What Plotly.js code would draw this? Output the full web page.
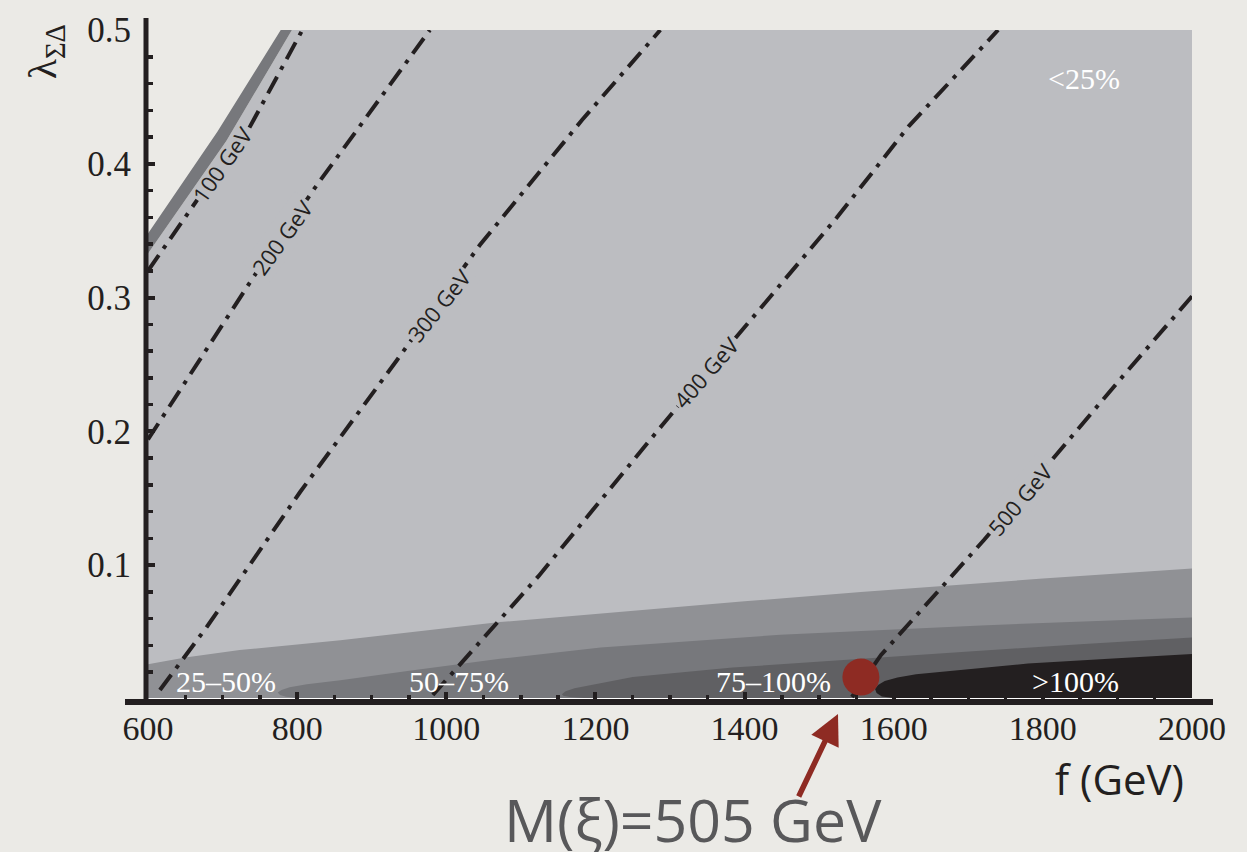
<!DOCTYPE html>
<html>
<head>
<meta charset="utf-8">
<script src="https://cdn.plot.ly/plotly-3.0.1.min.js"></script>
<style>html,body{margin:0;padding:0;background:#ebeae6;}#chart{width:1247px;height:852px;}</style>
</head>
<body>
<div id="chart"></div>
<script>
// ---- axis ticks ----
const fTicks = [600, 800, 1000, 1200, 1400, 1600, 1800, 2000];
const lamTicks = [0.1, 0.2, 0.3, 0.4, 0.5];

// ---- region boundaries (f in GeV, lambda) ----
const edgeOuterF = [600, 693, 778];
const edgeOuterL = [0.348, 0.424, 0.5];
const edgeInnerF = [600, 705, 793];
const edgeInnerL = [0.333, 0.417, 0.5];

// 25% boundary (<25% above, 25-50% below)
const b25F = [600, 650, 723, 858, 1072, 1207, 1400, 1556, 1800, 2000];
const b25L = [0.026, 0.031, 0.0366, 0.044, 0.0575, 0.064, 0.073, 0.080, 0.090, 0.0975];
// 50% boundary (tip, upper edge, then lower edge back to the tip)
const b50F = [774, 779, 790, 813, 858, 948, 1072, 1207, 1448, 1556, 1717, 2000];
const b50L = [0.0048, 0.0068, 0.0088, 0.011, 0.014, 0.021, 0.030, 0.0385, 0.048, 0.051, 0.055, 0.061];
const b50LowF = [800, 785, 777];
const b50LowL = [0.0008, 0.0016, 0.003];
// 75% boundary
const b75F = [1155, 1160, 1172, 1206, 1250, 1384, 1448, 1555, 1716, 1850, 2000];
const b75L = [0.0035, 0.0058, 0.008, 0.0115, 0.0164, 0.0235, 0.026, 0.030, 0.036, 0.041, 0.046];
const b75LowF = [1185, 1166, 1157];
const b75LowL = [0.0008, 0.0015, 0.0025];
// 100% boundary
const b100F = [1575, 1579, 1588, 1605, 1630, 1680, 1716, 1780, 1900, 2000];
const b100L = [0.0075, 0.0105, 0.0135, 0.016, 0.0185, 0.021, 0.023, 0.0265, 0.0305, 0.0336];
const b100LowF = [1600, 1584, 1577];
const b100LowL = [0.0008, 0.0018, 0.0045];

// ---- M(xi) contours (dash-dot); null = gap where the label sits ----
const massLabels = ["100 GeV", "200 GeV", "300 GeV", "400 GeV", "500 GeV"];
const m100F = [600, 666, null, 736, 807];
const m100L = [0.320, 0.373, null, 0.427, 0.5];
const m200F = [600, 741, 825, 978];
const m200L = [0.194, 0.315, 0.383, 0.5];
const m300F = [616, 679, 804, 934, 1045, 1182, 1287];
const m300L = [0.0067, 0.054, 0.1547, 0.2534, 0.3393, 0.4327, 0.5];
const m400F = [982, 1124, 1290, 1524, 1620, 1740];
const m400L = [0.003, 0.092, 0.205, 0.360, 0.428, 0.5];
const m500F = [1544, 1583, 1721, 1899.5, 2000];
const m500L = [0.0015, 0.0329, 0.1188, 0.2362, 0.301];

// benchmark point M(xi)=505 GeV
const pointF = [1556];
const pointL = [0.0164];

// region labels
const regionText = ["<25%", "25\u201350%", "50\u201375%", "75\u2013100%", ">100%"];

// ---- colors ----
const cLight = '#bcbdc1', cMid1 = '#909195', cMid2 = '#77787c', cMid3 = '#606063', cBlack = '#231f20';
const bg = '#ebeae6';
const xMin = fTicks[0], xMax = fTicks[fTicks.length - 1];
const yMin = 0, yMax = lamTicks[lamTicks.length - 1];

function poly(xs, ys, color) {
  return {type: 'scatter', mode: 'lines', x: xs, y: ys, fill: 'toself', fillcolor: color,
          line: {width: 0, color: color}, hoverinfo: 'skip'};
}
function rev(a) { return a.slice().reverse(); }

const traces = [];
traces.push(poly(edgeInnerF.concat([xMax, xMax, xMin]), edgeInnerL.concat([yMax, yMin, yMin]), cLight));
traces.push(poly(edgeOuterF.concat(rev(edgeInnerF)), edgeOuterL.concat(rev(edgeInnerL)), cMid2));
traces.push(poly(b25F.concat([xMax, xMin]), b25L.concat([yMin, yMin]), cMid1));
traces.push(poly(b50F.concat([xMax], b50LowF), b50L.concat([yMin], b50LowL), cMid2));
traces.push(poly(b75F.concat([xMax], b75LowF), b75L.concat([yMin], b75LowL), cMid3));
traces.push(poly(b100F.concat([xMax], b100LowF), b100L.concat([yMin], b100LowL), cBlack));

// white baseline
traces.push({type: 'scatter', mode: 'lines', x: [xMin, xMax], y: [yMin, yMin],
  line: {color: '#ffffff', width: 2}, hoverinfo: 'skip'});

// mass contours
const massF = [m100F, m200F, m300F, m400F, m500F];
const massL = [m100L, m200L, m300L, m400L, m500L];
for (let i = 0; i < massF.length; i++) {
  traces.push({type: 'scatter', mode: 'lines', x: massF[i], y: massL[i], connectgaps: false,
    line: {color: '#231f20', width: 4, dash: '19px,8px,4px,8px'}, hoverinfo: 'skip'});
}
// red point
traces.push({type: 'scatter', mode: 'markers', x: pointF, y: pointL,
  marker: {color: '#8e2b23', size: 37, line: {width: 0}}, hoverinfo: 'skip', cliponaxis: false});

// ---- pixel helpers for annotations placed in paper space ----
const L = 148, R = 55, T = 30, B = 153, W = 1247, H = 852;
const pw = W - L - R, ph = H - T - B;
function px(x) { return (x - L) / pw; }
function py(y) { return (H - B - y) / ph; }

const serif = 'Liberation Serif, Times New Roman, serif';
const sans = 'Open Sans, Noto Sans, sans-serif';

const annotations = [];
const regionPos = [[1084, 78], [226, 681], [459, 681], [773, 681], [1075, 681]];
regionText.forEach((t, i) => {
  annotations.push({xref: 'paper', yref: 'paper', x: px(regionPos[i][0]), y: py(regionPos[i][1]),
    text: t, showarrow: false, xanchor: 'center', yanchor: 'middle',
    font: {family: serif, size: 30, color: '#ffffff'}});
});
const massLabPos = [[222, 164, -55], [282, 237, -54], [439, 305, -51], [706, 372, -49], [1020, 499, -50]];
massLabels.forEach((t, i) => {
  const a = {xref: 'paper', yref: 'paper', x: px(massLabPos[i][0]), y: py(massLabPos[i][1]),
    text: t, showarrow: false, textangle: massLabPos[i][2], xanchor: 'center', yanchor: 'middle',
    borderpad: 1, font: {family: sans, size: 22, color: '#231f20'}};
  if (i > 0) a.bgcolor = cLight;
  annotations.push(a);
});
annotations.push({xref: 'paper', yref: 'paper', x: px(45), y: py(52), text: '\u03bb<sub>\u03a3\u0394</sub>',
  showarrow: false, textangle: -90, xanchor: 'center', yanchor: 'middle',
  font: {family: serif, size: 41, color: '#231f20'}});
annotations.push({xref: 'paper', yref: 'paper', x: px(1119), y: py(778), text: 'f (GeV)',
  showarrow: false, xanchor: 'center', yanchor: 'middle',
  font: {family: sans, size: 42, color: '#231f20'}});
annotations.push({xref: 'paper', yref: 'paper', x: px(693), y: py(819), text: 'M(\u03be)=505 GeV',
  showarrow: false, xanchor: 'center', yanchor: 'middle',
  font: {family: sans, size: 59, color: '#58585a'}});
annotations.push({xref: 'paper', yref: 'paper', x: px(838), y: py(714), text: '',
  showarrow: true, arrowhead: 2, arrowsize: 1.1, arrowwidth: 5.5, arrowcolor: '#8e2b23',
  ax: -40, ay: 84, axref: 'pixel', ayref: 'pixel'});

const shapes = [
  {type: 'line', xref: 'paper', yref: 'paper', x0: px(146), x1: px(146), y0: py(705), y1: py(18),
   line: {color: '#231f20', width: 5}, layer: 'above'},
  {type: 'line', xref: 'paper', yref: 'paper', x0: px(125), x1: px(1213), y0: py(702), y1: py(702),
   line: {color: '#231f20', width: 6}, layer: 'above'}
];

const tickColor = '#231f20';
const layout = {
  width: W, height: H,
  margin: {l: L, r: R, t: T, b: B, pad: 0},
  paper_bgcolor: bg, plot_bgcolor: bg,
  showlegend: false,
  xaxis: {range: [xMin, xMax], tickvals: fTicks, ticktext: fTicks.map(String),
    ticks: 'inside', ticklen: 7, tickwidth: 4, tickcolor: tickColor,
    minor: {dtick: 50, tick0: 600, ticks: 'inside', ticklen: 4.5, tickwidth: 3.5, tickcolor: tickColor, showgrid: false},
    showgrid: false, zeroline: false, showline: false, fixedrange: true, automargin: false,
    ticklabelstandoff: 6,
    tickfont: {family: serif, size: 34, color: '#231f20'}},
  yaxis: {range: [yMin, yMax], tickvals: lamTicks, ticktext: lamTicks.map(v => v.toFixed(1)),
    ticks: 'inside', ticklen: 7, tickwidth: 4, tickcolor: tickColor,
    minor: {dtick: 0.02, tick0: 0, ticks: 'inside', ticklen: 4.5, tickwidth: 3.5, tickcolor: tickColor, showgrid: false},
    showgrid: false, zeroline: false, showline: false, fixedrange: true, automargin: false,
    ticklabelstandoff: 16,
    tickfont: {family: serif, size: 35, color: '#231f20'}},
  annotations: annotations,
  shapes: shapes
};

Plotly.newPlot('chart', traces, layout, {staticPlot: true, displayModeBar: false});
</script>
</body>
</html>
